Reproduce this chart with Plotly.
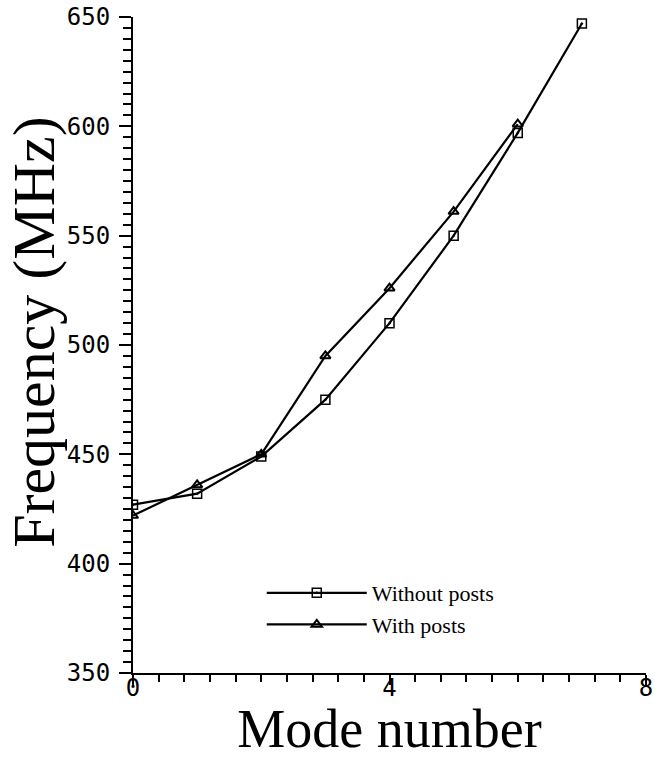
import plotly.graph_objects as go

modes_without = [0, 1, 2, 3, 4, 5, 6, 7]
freq_without = [427, 432, 449, 475, 510, 550, 597, 647]
modes_with = [0, 1, 2, 3, 4, 5, 6]
freq_with = [422, 436, 450, 495, 526, 561, 601]

x_ticks = [0, 4, 8]
y_ticks = [350, 400, 450, 500, 550, 600, 650]

fig = go.Figure()
fig.add_trace(go.Scatter(
    x=modes_without, y=freq_without, mode="lines+markers", name="Without posts",
    line=dict(color="black", width=2.2),
    marker=dict(symbol="square-open-dot", size=9, color="black", line=dict(width=1.5, color="black")),
))
fig.add_trace(go.Scatter(
    x=modes_with, y=freq_with, mode="lines+markers", name="With posts",
    line=dict(color="black", width=2.2),
    marker=dict(symbol="triangle-up-open", size=9, color="black", line=dict(width=2, color="black")),
))

tickfont = dict(family="DejaVu Sans Mono", size=24, color="black")

fig.update_layout(
    width=655, height=759,
    margin=dict(l=133, r=9, t=17, b=86),
    paper_bgcolor="white", plot_bgcolor="white",
    showlegend=True,
    legend=dict(
        x=0.251, y=0.154, xanchor="left", yanchor="top",
        font=dict(family="Liberation Serif", size=22, color="black"),
        bgcolor="rgba(0,0,0,0)", itemwidth=100, tracegroupgap=0,
    ),
    xaxis=dict(
        range=[0, 8], tickvals=x_ticks, ticks="outside", ticklen=10, tickwidth=2,
        tickcolor="black", showline=True, linecolor="black", linewidth=2,
        showgrid=False, zeroline=False, tickfont=tickfont, ticklabelstandoff=-18,
        automargin=False,
        minor=dict(dtick=0.4, ticks="outside", ticklen=7, tickwidth=1.5, tickcolor="black"),
        title=dict(text="Mode number", font=dict(family="Liberation Serif", size=54, color="black"), standoff=2),
    ),
    yaxis=dict(
        range=[350, 650], tickvals=y_ticks, ticks="outside", ticklen=12, tickwidth=2,
        tickcolor="black", showline=True, linecolor="black", linewidth=2,
        showgrid=False, zeroline=False, tickfont=tickfont, ticklabelstandoff=4,
        automargin=False,
        minor=dict(dtick=5, ticks="outside", ticklen=8, tickwidth=1.5, tickcolor="black"),
    ),
    annotations=[dict(
        text="Frequency (MHz)", textangle=-90, showarrow=False,
        xref="paper", yref="paper", x=-0.193, y=0.52, xanchor="center", yanchor="middle",
        font=dict(family="Liberation Serif", size=60, color="black"),
    )],
)

fig.write_html("out.html", config={"displayModeBar": False},
               post_script="document.body.style.margin='0';")
